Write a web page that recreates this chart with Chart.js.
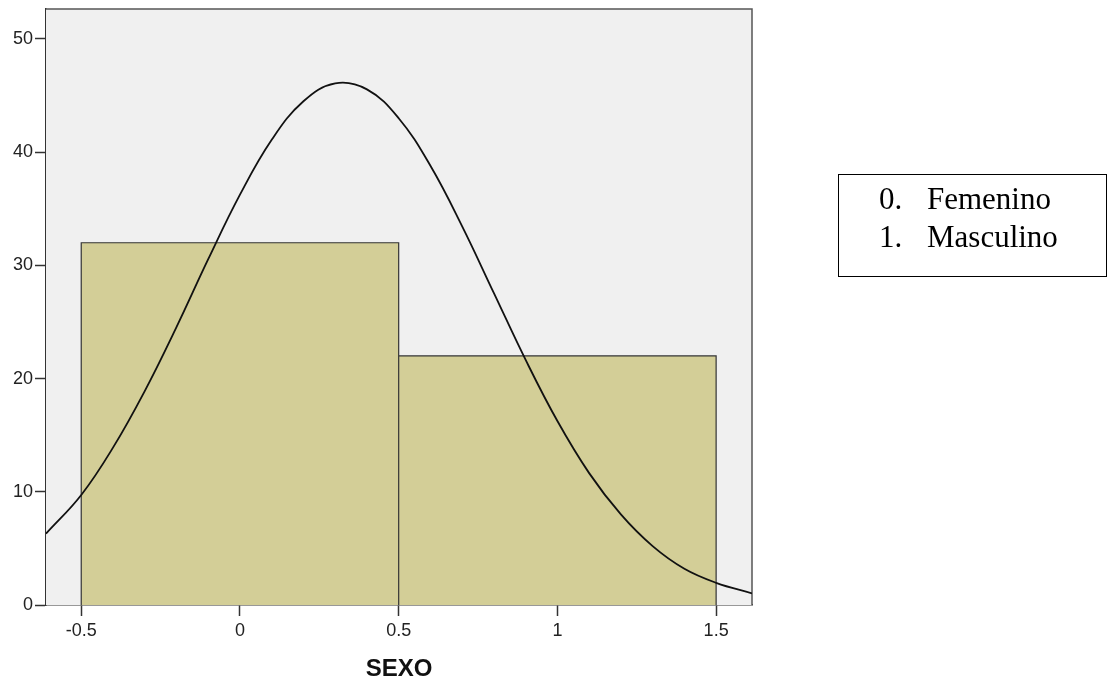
<!DOCTYPE html>
<html>
<head>
<meta charset="utf-8">
<script src="https://cdn.jsdelivr.net/npm/chart.js@4.4.1/dist/chart.umd.min.js"></script>
<style>
    html, body { margin: 0; padding: 0; background: #fff; }
    #wrap { position: relative; width: 1113px; height: 684px; }
    #legend-box {
        position: absolute; left: 838px; top: 174px; width: 267px; height: 96px;
        border: 1.5px solid #000; font-family: "Liberation Serif", "Times New Roman", serif;
        font-size: 31px; color: #000; padding-top: 5px; box-sizing: content-box;
    }
    .row { position: relative; height: 37.5px; line-height: 37.5px; }
    .row .num { position: absolute; left: 40px; }
    .row .lab { position: absolute; left: 88px; }
</style>
</head>
<body>
<div id="wrap">
    <canvas id="chart" width="1113" height="684"></canvas>
    <div id="legend-box"></div>
</div>
<script>
// histogram: bin edges and counts
const binEdges = [-0.5, 0.5, 1.5]
const binCounts = [32, 22]

// normal curve
const curveX = [-0.611, -0.5, -0.4, -0.3, -0.2, -0.1, 0, 0.1, 0.2, 0.3, 0.4, 0.5, 0.6, 0.7, 0.8, 0.9, 1.0, 1.1, 1.2, 1.3, 1.4, 1.5, 1.613]
const curveY = [6.3, 9.72, 13.9, 18.9, 24.55, 30.55, 36.25, 41.1, 44.5, 46.08, 45.55, 43.0, 38.8, 33.45, 27.55, 21.65, 16.25, 11.65, 8.0, 5.2, 3.2, 1.96, 1.03]

const xTicks = [-0.5, 0, 0.5, 1, 1.5]
const yTicks = [0, 10, 20, 30, 40, 50]
const legendNums = ["0.", "1."]
const legendLabels = ["Femenino", "Masculino"]

// legend box on the right
const box = document.getElementById("legend-box")
legendLabels.forEach((label, i) => {
    const row = document.createElement("div")
    row.className = "row"
    row.innerHTML = '<span class="num">' + legendNums[i] + '</span><span class="lab">' + label + '</span>'
    box.appendChild(row)
})

// histogram outline: each bin goes up, across and back down to zero
const histPoints = []
binCounts.forEach((c, i) => {
    histPoints.push({ x: binEdges[i], y: 0 })
    histPoints.push({ x: binEdges[i], y: c })
    histPoints.push({ x: binEdges[i + 1], y: c })
    histPoints.push({ x: binEdges[i + 1], y: 0 })
})

// grey plot background plus top/right frame
const plotFrame = {
    id: "plotFrame",
    beforeDatasetsDraw(chart) {
        const { ctx, chartArea: a } = chart
        ctx.save()
        ctx.fillStyle = "#f0f0f0"
        ctx.fillRect(a.left, a.top, a.right - a.left, a.bottom - a.top)
        ctx.strokeStyle = "#555"
        ctx.lineWidth = 1.5
        ctx.beginPath()
        ctx.moveTo(a.left, a.top)
        ctx.lineTo(a.right, a.top)
        ctx.lineTo(a.right, a.bottom)
        ctx.stroke()
        ctx.restore()
    },
}

const font = "'Liberation Sans', Arial, sans-serif"

new Chart(document.getElementById("chart"), {
    type: "line",
    data: {
        datasets: [
            {
                data: curveX.map((x, i) => ({ x: x, y: curveY[i] })),
                borderColor: "#111",
                borderWidth: 1.8,
                pointRadius: 0,
                fill: false,
                tension: 0.4,
                order: 0,
            },
            {
                data: histPoints,
                backgroundColor: "#d3ce97",
                borderColor: "#333",
                borderWidth: 1.2,
                pointRadius: 0,
                tension: 0,
                fill: "origin",
                order: 1,
            },
        ],
    },
    options: {
        responsive: false,
        animation: false,
        layout: { padding: { left: 0, top: 9, right: 361, bottom: 0 } },
        plugins: { legend: { display: false }, tooltip: { enabled: false } },
        scales: {
            x: {
                type: "linear",
                min: -0.611,
                max: 1.613,
                afterFit: (s) => { s.height = 79; s.paddingLeft = 0; s.paddingRight = 0 },
                afterBuildTicks: (s) => { s.ticks = xTicks.map((v) => ({ value: v })) },
                border: { display: true, color: "#333", width: 1.5 },
                grid: { drawOnChartArea: false, drawTicks: true, tickLength: 11, tickColor: "#333", tickWidth: 1.5 },
                ticks: {
                    color: "#222", font: { family: font, size: 18 }, padding: 4, maxRotation: 0,
                    callback: (v) => String(v),
                },
                title: {
                    display: true,
                    text: "SEXO",
                    color: "#111",
                    font: { family: font, size: 24, weight: "bold" },
                    padding: { top: 0, bottom: 0 },
                },
            },
            y: {
                min: 0,
                max: 52.65,
                afterFit: (s) => { s.width = 46; s.paddingTop = 0; s.paddingBottom = 0 },
                afterBuildTicks: (s) => { s.ticks = yTicks.map((v) => ({ value: v })) },
                border: { display: true, color: "#333", width: 1.5 },
                grid: { drawOnChartArea: false, drawTicks: true, tickLength: 11, tickColor: "#333", tickWidth: 1.5 },
                ticks: { color: "#222", font: { family: font, size: 18 }, padding: 2 },
            },
        },
    },
    plugins: [plotFrame],
})
</script>
</body>
</html>
